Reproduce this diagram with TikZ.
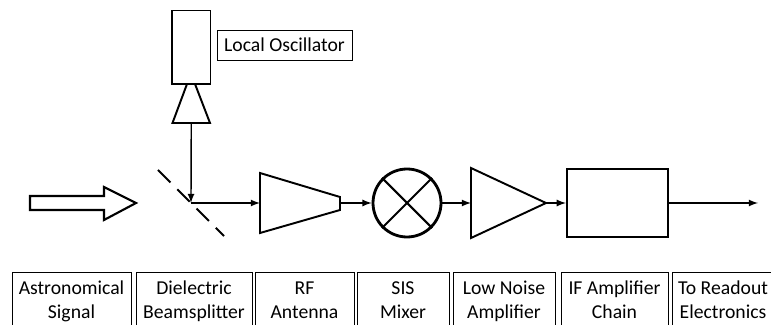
\documentclass[tikz,border=0pt]{standalone}
\usepackage{fontspec}
\setmainfont{Carlito}
\usetikzlibrary{positioning}
\tikzset{
part/.style={draw,line width=1.1pt,inner sep=0pt},
lbl/.style={draw,line width=.5pt,inner sep=0pt,align=center,font=\fontsize{11.2}{14.2}\selectfont},
sig/.style={-latex,line width=.8pt}
}

\begin{document}
\begin{tikzpicture}
\clip (0,0) rectangle (15.42,6.5);

\node (lo) at (3.825,5.555) [part,minimum width=.77cm,minimum height=1.47cm] {};
\node (lolbl) at (5.69,5.6) [lbl,minimum width=2.7cm,minimum height=.6cm] {Local Oscillator};
\node (mix) at (8.14,2.44) [part,circle,line width=1.6pt,minimum size=1.36cm] {};
\node (ifchain) at (12.35,2.44) [part,line width=1.3pt,minimum width=2.02cm,minimum height=1.36cm] {};

\draw[line width=1.2pt] (mix.45) -- (mix.225);
\draw[line width=1.2pt] (mix.135) -- (mix.315);

% horn under the oscillator
\draw[line width=1.1pt] (3.74,4.82) -- (3.9,4.82) -- (4.2,4.04) -- (3.45,4.04) -- cycle;
\coordinate (hornout) at (3.825,4.04);

% incoming signal
\draw[line width=1.2pt] (.6,2.58) -- (2.08,2.58) -- (2.08,2.76) -- (2.72,2.44) -- (2.08,2.1) -- (2.08,2.3) -- (.6,2.3) -- cycle;

% beamsplitter
\draw[line width=1.1pt,dash pattern=on 10pt off 5.5pt] (3.16,3.1) -- (4.48,1.78);
\coordinate (bs) at (3.82,2.44);

% antenna
\draw[line width=1.1pt] (5.2,3.04) -- (6.8,2.56) -- (6.8,2.3) -- (5.2,1.84) -- cycle;
\coordinate (rfin) at (5.2,2.44);
\coordinate (rfout) at (6.8,2.44);

% low noise amplifier
\draw[line width=1.1pt] (9.42,3.14) -- (10.92,2.44) -- (9.42,1.74) -- cycle;
\coordinate (lnain) at (9.42,2.44);
\coordinate (lnaout) at (10.92,2.44);

\coordinate (out) at (15.16,2.44);

\draw[sig] (hornout) -- (bs);
\draw[sig] (bs) -- (rfin);
\draw[sig] (rfout) -- (mix);
\draw[sig] (mix) -- (lnain);
\draw[sig] (lnaout) -- (ifchain);
\draw[sig] (ifchain) -- (out);

\foreach \n/\x/\w/\t in {astro/1.43/2.38/{\strut Astronomical\\\strut Signal},
bsl/3.88/2.32/{\strut Dielectric\\\strut Beamsplitter},
rf/6.09/1.98/{\strut RF\\\strut Antenna},
sis/8.06/1.84/{\strut SIS\\\strut Mixer},
lna/10.08/2.04/{\strut Low Noise\\\strut Amplifier},
ifa/12.29/2.14/{\strut IF Amplifier\\\strut Chain},
ro/14.46/2.04/{\strut To Readout\\\strut Electronics}}{
\node (\n) at (\x,.47) [lbl,minimum width=\w cm,minimum height=1.18cm] {\t};
}
\end{tikzpicture}
\end{document}
